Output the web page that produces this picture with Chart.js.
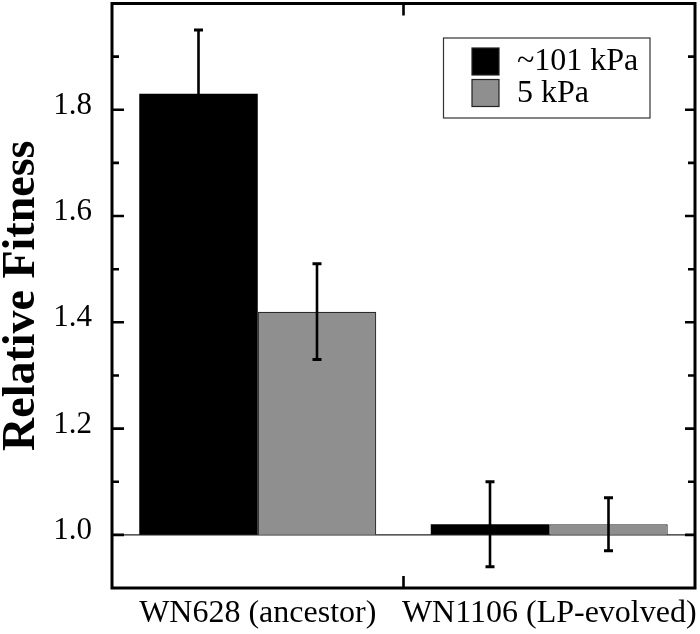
<!DOCTYPE html>
<html>
<head>
<meta charset="utf-8">
<script src="https://cdn.jsdelivr.net/npm/chart.js@4.4.1/dist/chart.umd.min.js"></script>
<style>
  html, body { margin: 0; padding: 0; background: #fff; }
  #wrap { width: 700px; height: 634px; position: relative; }
</style>
</head>
<body>
<div id="wrap"><canvas id="c" width="700" height="634"></canvas></div>
<script>
const categories = ['WN628 (ancestor)', 'WN1106 (LP-evolved)'];
const seriesLabels = ['~101 kPa', '5 kPa'];
const atmValues = [1.83, 1.02];
const atmErrors = [0.12, 0.08];
const lowValues = [1.42, 1.02];
const lowErrors = [0.09, 0.05];
const yTickLabels = ['1.0', '1.2', '1.4', '1.6', '1.8'];
const yMin = 0.9, yMax = 2.0, yBase = 1.0;

const SERIF = "'Liberation Serif', 'Times New Roman', serif";

const decorPlugin = {
  id: 'decor',
  beforeDatasetsDraw(chart) {
    const { ctx, chartArea: { left, right }, scales: { y } } = chart;
    const py = y.getPixelForValue(yBase);
    ctx.save();
    ctx.strokeStyle = '#222';
    ctx.lineWidth = 1.2;
    ctx.beginPath();
    ctx.moveTo(left, py);
    ctx.lineTo(right, py);
    ctx.stroke();
    ctx.restore();
  },
  afterDraw(chart) {
    const { ctx, chartArea: { left, right, top, bottom }, scales: { x, y } } = chart;
    ctx.save();
    ctx.strokeStyle = '#000';
    ctx.lineCap = 'butt';
    // error bars
    chart.data.datasets.forEach((ds, i) => {
      const meta = chart.getDatasetMeta(i);
      meta.data.forEach((bar, j) => {
        const v = ds.data[j], e = ds.errors[j];
        const yt = y.getPixelForValue(v + e);
        const yb = y.getPixelForValue(v - e);
        const cx = bar.x;
        ctx.lineWidth = 2.6;
        ctx.beginPath();
        ctx.moveTo(cx, yt); ctx.lineTo(cx, yb);
        ctx.stroke();
        ctx.lineWidth = 3;
        ctx.beginPath();
        ctx.moveTo(cx - 4.5, yt); ctx.lineTo(cx + 4.5, yt);
        ctx.moveTo(cx - 4.5, yb); ctx.lineTo(cx + 4.5, yb);
        ctx.stroke();
      });
    });
    // inward y ticks (left & right)
    ctx.lineWidth = 2.6;
    y.ticks.forEach(t => {
      const val = t.value;
      if (val <= yMin + 1e-6 || val >= yMax - 1e-6) return;
      const major = yTickLabels.includes(val.toFixed(1));
      const py = y.getPixelForValue(val);
      ctx.beginPath();
      ctx.moveTo(left, py); ctx.lineTo(left + (major ? 12 : 7), py);
      ctx.moveTo(right, py); ctx.lineTo(right - (major ? 10 : 7), py);
      ctx.stroke();
    });
    // x boundary tick (top & bottom)
    const px = (x.getPixelForTick(0) + x.getPixelForTick(1)) / 2;
    ctx.beginPath();
    ctx.moveTo(px, top); ctx.lineTo(px, top + 12);
    ctx.moveTo(px, bottom); ctx.lineTo(px, bottom - 12);
    ctx.stroke();
    // frame
    ctx.lineWidth = 3;
    ctx.strokeRect(left, top, right - left, bottom - top);
    // legend
    const lx = 443.5, ly = 38, lw = 206.5, lh = 80;
    ctx.lineWidth = 1.2;
    ctx.strokeStyle = '#333';
    ctx.fillStyle = '#fff';
    ctx.fillRect(lx, ly, lw, lh);
    ctx.strokeRect(lx, ly, lw, lh);
    ctx.font = '32px ' + SERIF;
    ctx.textBaseline = 'middle';
    ctx.textAlign = 'left';
    chart.data.datasets.forEach((ds, i) => {
      const sy = 48 + i * 31.5;
      ctx.fillStyle = ds.backgroundColor;
      ctx.fillRect(472, sy, 27, 27);
      ctx.strokeStyle = '#222';
      ctx.lineWidth = 1.2;
      ctx.strokeRect(472, sy, 27, 27);
      ctx.fillStyle = '#000';
      ctx.fillText(ds.label, 517, sy + 14);
    });
    ctx.restore();
  }
};

new Chart(document.getElementById('c'), {
  type: 'bar',
  data: {
    labels: categories,
    datasets: [
      {
        label: seriesLabels[0],
        data: atmValues,
        errors: atmErrors,
        backgroundColor: '#000000',
        borderColor: '#000000',
        borderWidth: 0,
        base: yBase,
        barPercentage: 1.0,
        categoryPercentage: 0.813
      },
      {
        label: seriesLabels[1],
        data: lowValues,
        errors: lowErrors,
        backgroundColor: '#8f8f8f',
        borderColor: '#2a2a2a',
        borderWidth: 1.2,
        base: yBase,
        barPercentage: 1.0,
        categoryPercentage: 0.813
      }
    ]
  },
  options: {
    responsive: false,
    animation: false,
    layout: { padding: { top: 3.5, right: 5, left: 0, bottom: 0 } },
    plugins: {
      legend: { display: false },
      tooltip: { enabled: false },
      title: { display: false }
    },
    scales: {
      x: {
        grid: { display: false, drawTicks: false },
        border: { display: false },
        ticks: {
          color: '#000',
          padding: 6,
          maxRotation: 0,
          autoSkip: false,
          font: { family: SERIF, size: 32 }
        },
        afterFit(s) { s.height = 46; s.paddingLeft = 0; s.paddingRight = 0; }
      },
      y: {
        min: yMin,
        max: yMax,
        grid: { display: false, drawTicks: false },
        border: { display: false },
        ticks: {
          stepSize: 0.1,
          color: '#000',
          padding: 20,
          labelOffset: -4,
          font: { family: SERIF, size: 31 },
          callback(value) {
            const s = Number(value).toFixed(1);
            return yTickLabels.includes(s) ? s : '';
          }
        },
        title: {
          display: true,
          text: 'Relative Fitness',
          color: '#000',
          padding: { top: 0, bottom: 0 },
          font: { family: SERIF, size: 46, weight: 'bold', lineHeight: 0.95 }
        },
        afterFit(s) { s.width = 112; s.paddingTop = 0; s.paddingBottom = 0; }
      }
    }
  },
  plugins: [decorPlugin]
});
</script>
</body>
</html>
